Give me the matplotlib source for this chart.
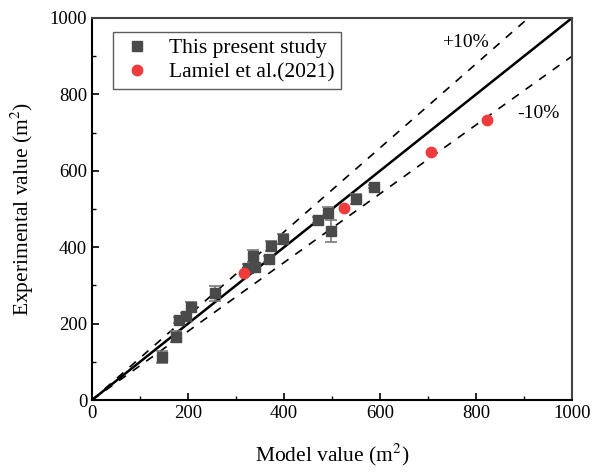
import matplotlib
matplotlib.use("Agg")
import matplotlib.pyplot as plt
import numpy as np

plt.rcParams['font.family'] = ['Liberation Serif', 'DejaVu Serif']
plt.rcParams['mathtext.fontset'] = 'stix'

study_x = [146, 176, 182, 195, 206, 256, 326, 340, 336, 369, 372, 397, 471, 492, 497, 550, 587]
study_y = [113, 166, 209, 220, 244, 279, 345, 349, 377, 368, 403, 421, 471, 490, 442, 525, 558]
study_err = [15, 15, 8, 8, 13, 20, 10, 10, 16, 8, 12, 13, 8, 14, 29, 13, 4]

lamiel_x = [317, 525, 706, 822]
lamiel_y = [332, 502, 648, 733]

ref_x = [0, 1000]

fig = plt.figure(figsize=(6.03, 4.72), dpi=100)
ax = fig.add_axes([0.1526, 0.1525, 0.796, 0.8094])

ax.plot(ref_x, ref_x, color='black', lw=1.8, zorder=2)
ax.plot(ref_x, [v * 1.1 for v in ref_x], color='black', lw=1.2, ls=(0, (5, 5)), zorder=2)
ax.plot(ref_x, [v * 0.9 for v in ref_x], color='black', lw=1.2, ls=(0, (5, 5)), zorder=2)

ax.errorbar(study_x, study_y, yerr=study_err, fmt='none', ecolor='#7a7a7a',
            elinewidth=1.2, capsize=4, capthick=1.2, zorder=3)
ax.plot(study_x, study_y, 's', color='#4a4a4a', markersize=7, zorder=3,
        label='This present study')
ax.plot(lamiel_x, lamiel_y, 'o', color='#ef3b3b', markersize=7.5, zorder=4,
        label='Lamiel et al.(2021)')

ax.text(729, 935, '+10%', fontsize=14, va='center', ha='left')
ax.text(885, 751, '-10%', fontsize=14, va='center', ha='left')

ax.set_xlim(0, 1000)
ax.set_ylim(0, 1000)
ax.set_xticks([0, 200, 400, 600, 800, 1000])
ax.set_yticks([0, 200, 400, 600, 800, 1000])
ax.set_xticks(np.arange(100, 1000, 200), minor=True)
ax.set_yticks(np.arange(100, 1000, 200), minor=True)
ax.tick_params(which='major', direction='in', length=5, width=1.2, labelsize=13.5)
ax.tick_params(which='minor', direction='in', length=3, width=1.0)
for name, s in ax.spines.items():
    s.set_linewidth(1.5)
    if name in ('top', 'right'):
        s.set_color('#444444')

ax.set_xlabel('Model value (m$^2$)', fontsize=15.5, labelpad=14)
ax.set_ylabel('Experimental value (m$^2$)', fontsize=15.5, labelpad=10)

leg = ax.legend(loc='upper left', bbox_to_anchor=(0.035, 0.975), fontsize=15.5, frameon=True,
                fancybox=False, edgecolor='#333333', handletextpad=0.7, borderpad=0.3,
                labelspacing=0.2, handlelength=1.6, borderaxespad=0.2)
leg.get_frame().set_linewidth(1.0)

fig.savefig('out.png', dpi=100)
